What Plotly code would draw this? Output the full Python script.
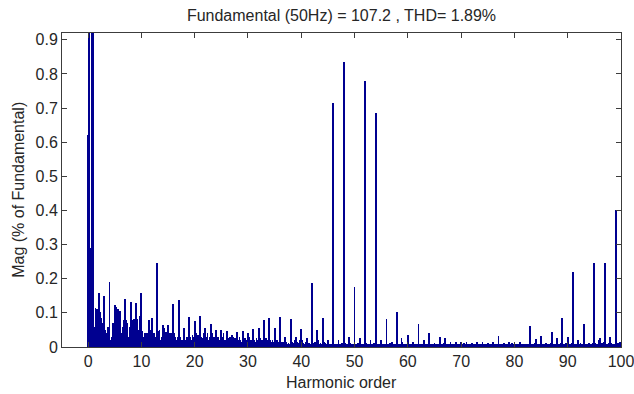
import plotly.graph_objects as go

# Harmonic spectrum, 0.2-harmonic resolution (5 bins per harmonic order)
bin_step = 0.2

mag_00_09 = [
    0.62, 1.30, 0.29, 0.065, 1.10,
    100.0, 0.06, 0.114, 0.110, 0.090,
    0.158, 0.104, 0.085, 0.060, 0.070,
    0.148, 0.050, 0.020, 0.040, 0.060,
    0.190, 0.020, 0.030, 0.070, 0.060,
    0.122, 0.116, 0.060, 0.110, 0.100,
    0.105, 0.040, 0.035, 0.060, 0.080,
    0.140, 0.080, 0.070, 0.030, 0.060,
    0.133, 0.080, 0.040, 0.082, 0.070,
    0.128, 0.082, 0.050, 0.030, 0.090,
]
mag_10_19 = [
    0.158, 0.046, 0.030, 0.040, 0.020,
    0.040, 0.030, 0.080, 0.050, 0.030,
    0.085, 0.030, 0.040, 0.020, 0.030,
    0.245, 0.048, 0.050, 0.020, 0.030,
    0.065, 0.056, 0.020, 0.045, 0.030,
    0.065, 0.030, 0.040, 0.020, 0.040,
    0.125, 0.040, 0.030, 0.020, 0.030,
    0.138, 0.030, 0.020, 0.015, 0.020,
    0.055, 0.020, 0.015, 0.030, 0.020,
    0.087, 0.030, 0.020, 0.035, 0.030,
]
mag_20_29 = [
    0.075, 0.040, 0.020, 0.035, 0.030,
    0.090, 0.030, 0.020, 0.025, 0.040,
    0.055, 0.030, 0.040, 0.020, 0.030,
    0.068, 0.040, 0.020, 0.030, 0.020,
    0.050, 0.025, 0.030, 0.020, 0.015,
    0.050, 0.030, 0.040, 0.020, 0.020,
    0.048, 0.020, 0.025, 0.030, 0.015,
    0.034, 0.030, 0.020, 0.025, 0.020,
    0.045, 0.020, 0.030, 0.020, 0.015,
    0.048, 0.020, 0.025, 0.015, 0.020,
]
mag_30_39 = [
    0.040, 0.030, 0.020, 0.015, 0.020,
    0.052, 0.020, 0.015, 0.025, 0.020,
    0.056, 0.025, 0.020, 0.015, 0.020,
    0.078, 0.020, 0.025, 0.015, 0.020,
    0.086, 0.020, 0.015, 0.020, 0.015,
    0.055, 0.015, 0.020, 0.010, 0.015,
    0.088, 0.015, 0.010, 0.015, 0.010,
    0.030, 0.015, 0.010, 0.012, 0.010,
    0.082, 0.015, 0.012, 0.010, 0.020,
    0.030, 0.015, 0.010, 0.012, 0.020,
]
mag_40_49 = [
    0.053, 0.020, 0.012, 0.010, 0.015,
    0.025, 0.010, 0.012, 0.010, 0.010,
    0.188, 0.012, 0.010, 0.015, 0.010,
    0.050, 0.020, 0.010, 0.012, 0.010,
    0.085, 0.015, 0.012, 0.010, 0.008,
    0.020, 0.010, 0.008, 0.010, 0.008,
    0.715, 0.010, 0.008, 0.010, 0.008,
    0.020, 0.008, 0.010, 0.012, 0.010,
    0.835, 0.012, 0.010, 0.008, 0.010,
    0.030, 0.012, 0.010, 0.008, 0.010,
]
mag_50_59 = [
    0.176, 0.010, 0.008, 0.012, 0.010,
    0.027, 0.010, 0.008, 0.010, 0.008,
    0.780, 0.012, 0.008, 0.010, 0.008,
    0.020, 0.010, 0.008, 0.012, 0.008,
    0.685, 0.010, 0.008, 0.010, 0.008,
    0.020, 0.008, 0.010, 0.008, 0.010,
    0.082, 0.010, 0.008, 0.012, 0.008,
    0.015, 0.008, 0.010, 0.008, 0.010,
    0.103, 0.010, 0.008, 0.010, 0.026,
    0.015, 0.008, 0.010, 0.008, 0.010,
]
mag_60_69 = [
    0.035, 0.010, 0.008, 0.010, 0.008,
    0.015, 0.008, 0.010, 0.008, 0.010,
    0.067, 0.008, 0.010, 0.008, 0.010,
    0.020, 0.008, 0.010, 0.008, 0.010,
    0.040, 0.010, 0.008, 0.010, 0.008,
    0.012, 0.008, 0.010, 0.008, 0.010,
    0.030, 0.010, 0.008, 0.010, 0.012,
    0.025, 0.010, 0.008, 0.010, 0.008,
    0.015, 0.010, 0.008, 0.010, 0.008,
    0.015, 0.008, 0.010, 0.008, 0.010,
]
mag_70_79 = [
    0.014, 0.008, 0.010, 0.012, 0.008,
    0.015, 0.010, 0.008, 0.010, 0.006,
    0.012, 0.008, 0.010, 0.008, 0.010,
    0.015, 0.010, 0.008, 0.006, 0.008,
    0.016, 0.010, 0.008, 0.010, 0.008,
    0.012, 0.008, 0.010, 0.008, 0.010,
    0.014, 0.010, 0.008, 0.006, 0.008,
    0.032, 0.008, 0.010, 0.008, 0.010,
    0.012, 0.010, 0.008, 0.010, 0.008,
    0.015, 0.008, 0.010, 0.012, 0.008,
]
mag_80_89 = [
    0.015, 0.010, 0.008, 0.010, 0.008,
    0.016, 0.008, 0.010, 0.006, 0.008,
    0.010, 0.008, 0.006, 0.008, 0.010,
    0.063, 0.008, 0.010, 0.008, 0.012,
    0.022, 0.008, 0.010, 0.008, 0.010,
    0.033, 0.010, 0.008, 0.010, 0.008,
    0.012, 0.008, 0.010, 0.008, 0.012,
    0.043, 0.010, 0.008, 0.010, 0.008,
    0.025, 0.010, 0.008, 0.010, 0.012,
    0.084, 0.010, 0.008, 0.012, 0.010,
]
mag_90_100 = [
    0.030, 0.010, 0.008, 0.010, 0.012,
    0.219, 0.010, 0.008, 0.010, 0.008,
    0.020, 0.010, 0.012, 0.008, 0.010,
    0.067, 0.010, 0.008, 0.010, 0.008,
    0.012, 0.010, 0.008, 0.010, 0.012,
    0.245, 0.012, 0.010, 0.008, 0.020,
    0.025, 0.010, 0.012, 0.010, 0.015,
    0.245, 0.010, 0.008, 0.010, 0.012,
    0.028, 0.012, 0.010, 0.008, 0.010,
    0.400, 0.012, 0.010, 0.012, 0.015,
    0.010,
]

magnitudes = (mag_00_09 + mag_10_19 + mag_20_29 + mag_30_39 + mag_40_49 +
              mag_50_59 + mag_60_69 + mag_70_79 + mag_80_89 + mag_90_100)
harmonic_order = [round(i * bin_step, 1) for i in range(len(magnitudes))]

x_ticks = [0, 10, 20, 30, 40, 50, 60, 70, 80, 90, 100]
y_ticks = [0, 0.1, 0.2, 0.3, 0.4, 0.5, 0.6, 0.7, 0.8, 0.9]
y_tick_text = ["0", "0.1", "0.2", "0.3", "0.4", "0.5", "0.6", "0.7", "0.8", "0.9"]

title_text = "Fundamental (50Hz) = 107.2 , THD= 1.89%"
x_label = "Harmonic order"
y_label = "Mag (% of Fundamental)"

FONT = "Liberation Sans, Arial, sans-serif"
TXT = "#262626"
FS = 16

fig = go.Figure(go.Bar(
    x=harmonic_order, y=magnitudes,
    width=bin_step * 0.8,
    marker=dict(color="#000090", line=dict(width=0)),
))

axis_common = dict(
    showgrid=False, zeroline=False, showline=True, linecolor="#3c3c3c",
    linewidth=1, mirror="ticks", ticks="inside", ticklen=5, tickwidth=1,
    tickcolor="#3c3c3c", tickfont=dict(family=FONT, size=FS, color=TXT),
    automargin=False, ticklabeloverflow="allow",
)

fig.update_layout(
    width=634, height=394,
    margin=dict(l=62, r=13, t=33, b=47),
    paper_bgcolor="white", plot_bgcolor="white",
    showlegend=False, bargap=0,
    title=dict(text=title_text, x=0.5, xref="paper", xanchor="center",
               y=1 - 15 / 394, yref="container", yanchor="middle",
               font=dict(family=FONT, size=FS, color=TXT)),
    xaxis=dict(range=[-4.9, 100], tickvals=x_ticks, **axis_common),
    yaxis=dict(range=[0, 0.92], tickvals=y_ticks, ticktext=y_tick_text, **axis_common),
    annotations=[
        dict(text=x_label, xref="paper", yref="paper", x=0.5, y=-0.112,
             xanchor="center", yanchor="middle", showarrow=False,
             font=dict(family=FONT, size=FS, color=TXT)),
        dict(text=y_label, xref="paper", yref="paper", x=-0.079, y=0.5,
             xanchor="center", yanchor="middle", textangle=-90, showarrow=False,
             font=dict(family=FONT, size=FS, color=TXT)),
    ],
)

fig.write_html("out.html")
